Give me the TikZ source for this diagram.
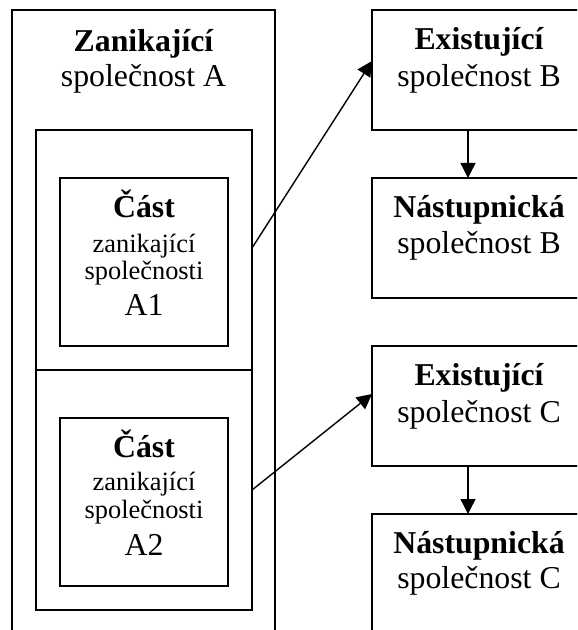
\documentclass[tikz,border=0pt]{standalone}
\usepackage{fontspec}
\setmainfont{Liberation Serif}
\usetikzlibrary{arrows.meta,fit}
\begin{document}
\begin{tikzpicture}[x=0.5pt,y=-0.5pt,
  box/.style={draw, line width=1pt, inner sep=0pt, outer sep=0pt, rectangle},
  big/.style={font=\fontsize{15.9}{18}\selectfont, anchor=base, inner sep=0pt},
  small/.style={font=\fontsize{13.2}{15}\selectfont, anchor=base, inner sep=0pt},
  conn/.style={line width=0.7pt, -{Triangle[length=7.5pt,width=7.5pt]}}]
\useasboundingbox (0,0) rectangle (577,630);
\clip (0,0) rectangle (577,630);
% boxes
\node[box, fit={(12,10) (275,660)}] (A) {};
\node[box, fit={(36,130) (252,610)}] (cont) {};
\node[box, fit={(60,178) (228,346)}] (A1) {};
\node[box, fit={(60,418) (228,586)}] (A2) {};
\node[box, fit={(372,10) (586,130)}] (B) {};
\node[box, fit={(372,178) (586,298)}] (NB) {};
\node[box, fit={(372,346) (586,466)}] (C) {};
\node[box, fit={(372,514) (586,660)}] (NC) {};
\coordinate (d) at (0,370);
\draw[line width=1pt] (cont.west |- d) -- (cont.east |- d);
% texts
\node[big] (tA1) at (143.5,52) {\bfseries Zanikající};
\node[big] (tA2) at (143.5,87) {společnost A};
\node[big] (p1a) at (144,218) {\bfseries Část};
\node[small] (p1b) at (144,252) {zanikající};
\node[small] (p1c) at (144,279) {společnosti};
\node[big] (p1d) at (144,315) {A1};
\node[big] (p2a) at (144,457) {\bfseries Část};
\node[small] (p2b) at (144,490) {zanikající};
\node[small] (p2c) at (144,518) {společnosti};
\node[big] (p2d) at (144,555) {A2};
\node[big] (tB1) at (479,50) {\bfseries Existující};
\node[big] (tB2) at (479,87) {společnost B};
\node[big] (tNB1) at (479,218) {\bfseries Nástupnická};
\node[big] (tNB2) at (479,254) {společnost B};
\node[big] (tC1) at (479,385) {\bfseries Existující};
\node[big] (tC2) at (479,422) {společnost C};
\node[big] (tNC1) at (479,553) {\bfseries Nástupnická};
\node[big] (tNC2) at (479,588) {společnost C};
% connectors
\coordinate (s1) at (252,248);
\coordinate (e1) at (372,61);
\coordinate (s2) at (252,490);
\coordinate (e2) at (372,394);
\coordinate (vx) at (468,0);
\draw[conn] (s1) -- (e1);
\draw[conn] (s2) -- (e2);
\draw[conn] (B.south -| vx) -- (NB.north -| vx);
\draw[conn] (C.south -| vx) -- (NC.north -| vx);
\end{tikzpicture}
\end{document}
